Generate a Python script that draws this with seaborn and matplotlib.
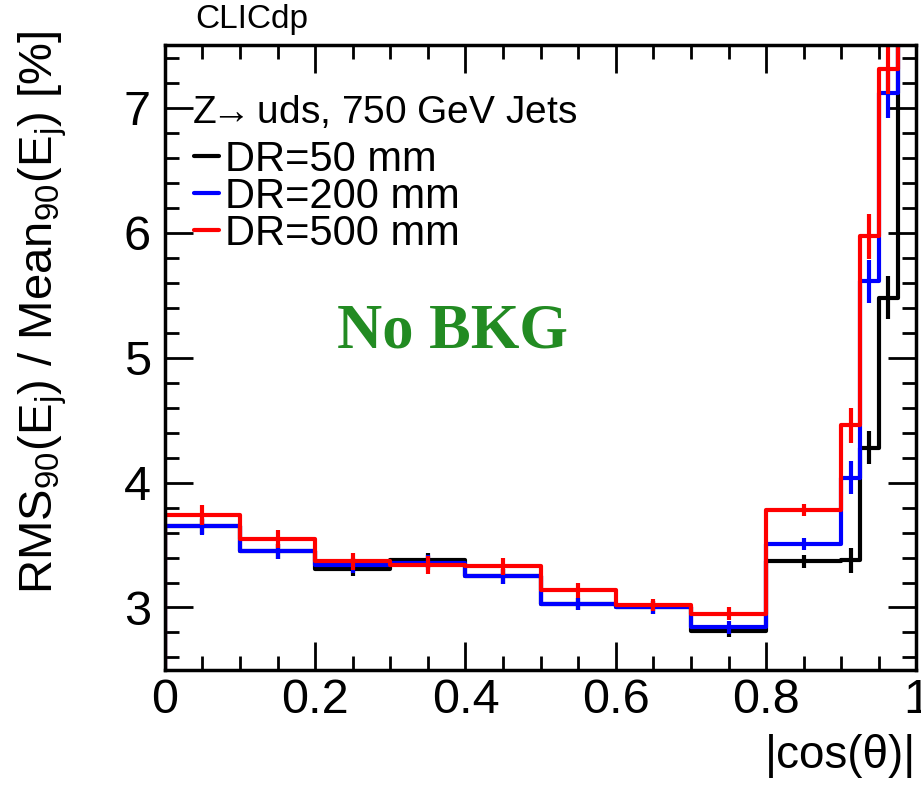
import numpy as np
import pandas as pd
import seaborn as sns
import matplotlib.pyplot as plt
from matplotlib.lines import Line2D
from matplotlib.ticker import MultipleLocator

# bin edges in |cos(theta)| (finer binning in the endcap region)
edges = [0.0, 0.1, 0.2, 0.3, 0.4, 0.5, 0.6, 0.7, 0.8, 0.9, 0.925, 0.95, 0.975, 1.0]

# RMS90/Mean90 [%] per bin (last bin is above the frame)
dr50 = [3.65, 3.45, 3.31, 3.38, 3.25, 3.03, 3.00, 2.81, 3.37, 3.38, 4.28, 5.48, 8.0]
dr200 = [3.65, 3.45, 3.34, 3.36, 3.25, 3.03, 3.00, 2.84, 3.51, 4.04, 5.61, 7.12, 8.6]
dr500 = [3.74, 3.55, 3.37, 3.34, 3.33, 3.14, 3.02, 2.95, 3.78, 4.46, 5.97, 7.31, 9.0]

err50 = [0.06, 0.06, 0.06, 0.06, 0.06, 0.05, 0.05, 0.05, 0.05, 0.10, 0.13, 0.17, 0.3]
err200 = [0.07, 0.06, 0.06, 0.06, 0.06, 0.05, 0.05, 0.05, 0.05, 0.13, 0.17, 0.20, 0.3]
err500 = [0.08, 0.07, 0.07, 0.07, 0.07, 0.06, 0.05, 0.05, 0.05, 0.14, 0.18, 0.20, 0.3]

labels = ["DR=50 mm", "DR=200 mm", "DR=500 mm"]
colors = ["#000000", "#0000ff", "#ff0000"]

ylow, yhigh = 2.5, 7.5

sns.set_theme(style="ticks")
plt.rcParams["font.family"] = ["Liberation Sans", "DejaVu Sans"]
plt.rcParams["text.color"] = "black"
plt.rcParams["axes.labelcolor"] = "black"
plt.rcParams["mathtext.fontset"] = "custom"
plt.rcParams["mathtext.rm"] = "Liberation Sans"
plt.rcParams["mathtext.it"] = "Liberation Sans:italic"

edges_arr = np.array(edges)
centers = 0.5 * (edges_arr[:-1] + edges_arr[1:])

rows = []
for lab, vals, errs in zip(labels, [dr50, dr200, dr500], [err50, err200, err500]):
    for c, v, e in zip(centers, vals, errs):
        rows.append({"x": c, "val": v, "err": e, "series": lab})
df = pd.DataFrame(rows)

fig = plt.figure(figsize=(9.21, 7.86), dpi=100)
ax = fig.add_axes([0.179, 0.1476, 0.816, 0.795])

for lab, col in zip(labels, colors):
    sub = df[df["series"] == lab]
    sns.histplot(x=sub["x"], weights=sub["val"], bins=edges, element="step",
                 fill=False, color=col, linewidth=3, ax=ax)
    # histogram edge rising from the baseline at the first bin edge
    ax.vlines(edges[0], ylow - 1, sub["val"].iloc[0], color=col, linewidth=3)
    ax.errorbar(sub["x"], sub["val"], yerr=sub["err"], fmt="none",
                ecolor=col, elinewidth=3, capsize=0)

ax.set_xlim(0, 1)
ax.set_ylim(ylow, yhigh)

ax.xaxis.set_major_locator(MultipleLocator(0.2))
ax.xaxis.set_minor_locator(MultipleLocator(0.05))
ax.yaxis.set_major_locator(MultipleLocator(1))
ax.yaxis.set_minor_locator(MultipleLocator(0.2))
ax.set_xticks([0, 0.2, 0.4, 0.6, 0.8, 1.0])
ax.set_xticklabels(["0", "0.2", "0.4", "0.6", "0.8", "1"])
ax.tick_params(which="both", direction="in", top=True, right=True,
               width=2, labelsize=35, colors="black")
ax.tick_params(which="major", length=20, pad=6)
ax.tick_params(which="minor", length=10)
ax.tick_params(axis="y", which="major", pad=10)
for sp in ax.spines.values():
    sp.set_linewidth(2.5)
    sp.set_color("black")

ax.set_xlabel("|cos(θ)|", fontsize=33, loc="right", labelpad=8)
ax.set_ylabel(r"RMS$_{90}$(E$_{\mathrm{j}}$) / Mean$_{90}$(E$_{\mathrm{j}}$) [%]",
              fontsize=34)
ax.yaxis.set_label_coords(-0.128, 0.573)

ax.text(0.036, 0.892, r"Z$\!\!\rightarrow\!\!$ uds, 750 GeV Jets", transform=ax.transAxes,
        fontsize=28, va="center", ha="left")
handles = [Line2D([], [], color=c, linewidth=3) for c in colors]
ax.legend(handles, labels, loc="upper left", bbox_to_anchor=(0.0, 0.895),
          fontsize=30, frameon=False, handlelength=0.6, handletextpad=0.15,
          labelspacing=-0.07, borderpad=0.2)

ax.text(0.383, 0.54, "No BKG", transform=ax.transAxes, fontsize=45,
        fontweight="bold", color="#228b22", family="Liberation Serif",
        ha="center", va="center")

fig.text(0.212, 0.955, "CLICdp", fontsize=24, ha="left", va="bottom")

fig.savefig("out.png", dpi=100)
